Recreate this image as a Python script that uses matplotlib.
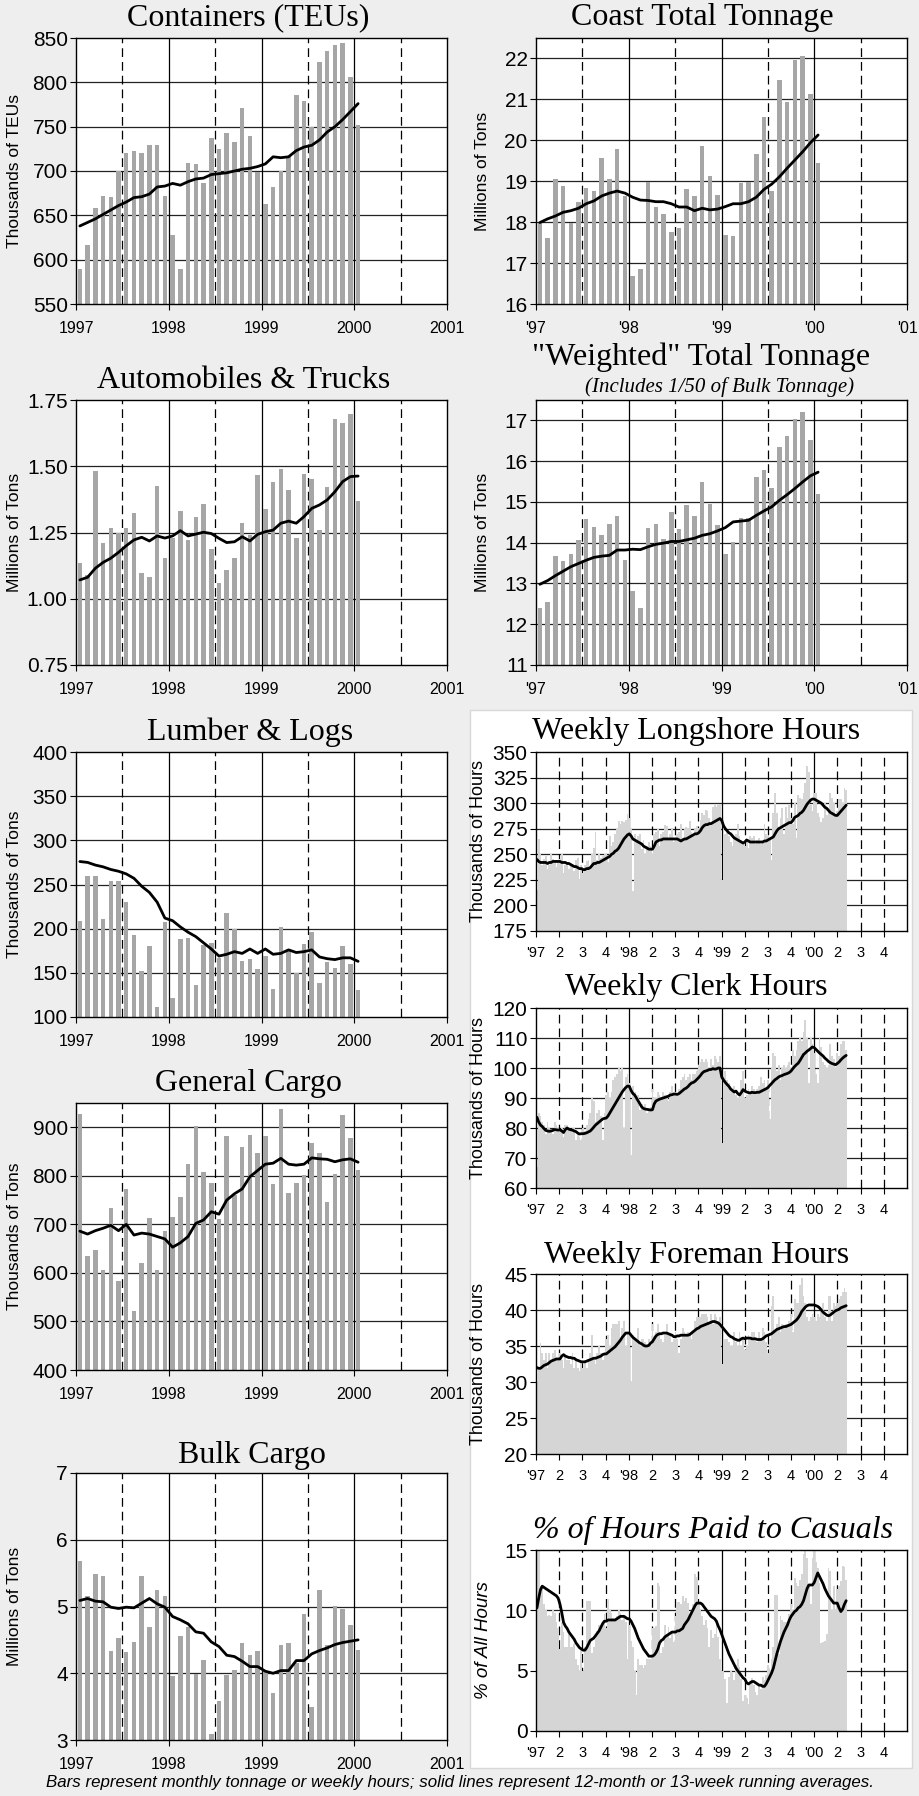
import numpy as np
import matplotlib
matplotlib.use("Agg")
import matplotlib.pyplot as plt
from matplotlib.patches import Rectangle

W, H = 920, 1796
BG = "#eeeeee"
BAR_GRAY = "#a6a6a6"
WEEK_GRAY = "#d5d5d5"
SERIF = "Liberation Serif"
SANS = "Liberation Sans"

# ---- monthly series, Jan 1997 .. Jan 2000 (37 months) ----
containers = [589, 616, 658, 672, 671, 700, 720, 722, 720, 729, 729, 672, 628,
              589, 709, 708, 686, 737, 725, 743, 733, 771, 740, 699, 663, 682,
              700, 716, 786, 779, 750, 823, 835, 842, 844, 806, 752]
containers_avg = [638, 642, 646, 651, 656, 661, 665, 670, 671, 674, 682, 683, 686,
                  684, 688, 691, 692, 696, 697, 698, 700, 702, 703, 705, 708, 716,
                  715, 716, 723, 727, 729, 735, 744, 750, 758, 767, 776]

coast = [17.99, 17.61, 19.05, 18.89, 17.99, 18.50, 18.83, 18.77, 19.56, 19.06,
         19.79, 18.64, 16.69, 16.85, 18.99, 18.37, 18.20, 17.77, 17.85, 18.80,
         18.63, 19.86, 19.14, 18.67, 17.69, 17.65, 18.95, 18.99, 19.67, 20.58,
         18.75, 21.47, 20.93, 21.96, 22.06, 21.13, 19.45]
coast_avg = [17.99, 18.08, 18.15, 18.24, 18.28, 18.34, 18.45, 18.52, 18.64, 18.71,
             18.76, 18.71, 18.61, 18.54, 18.53, 18.50, 18.50, 18.45, 18.37, 18.37,
             18.28, 18.34, 18.30, 18.32, 18.38, 18.45, 18.45, 18.50, 18.61, 18.80,
             18.93, 19.11, 19.32, 19.52, 19.72, 19.94, 20.13]

autos = [1.134, 1.09, 1.482, 1.212, 1.268, 1.249, 1.268, 1.322, 1.096, 1.081,
         1.427, 1.155, 1.228, 1.332, 1.222, 1.310, 1.358, 1.189, 1.058, 1.108,
         1.155, 1.285, 1.240, 1.467, 1.339, 1.439, 1.490, 1.410, 1.230, 1.471,
         1.452, 1.259, 1.422, 1.677, 1.664, 1.697, 1.369]
autos_avg = [1.071, 1.081, 1.115, 1.137, 1.153, 1.175, 1.200, 1.222, 1.232, 1.218,
             1.237, 1.229, 1.237, 1.257, 1.237, 1.244, 1.251, 1.246, 1.228, 1.212,
             1.215, 1.234, 1.218, 1.243, 1.253, 1.259, 1.285, 1.293, 1.285, 1.310,
             1.341, 1.354, 1.373, 1.404, 1.442, 1.461, 1.463]

weighted = [12.39, 12.55, 13.68, 13.55, 13.73, 14.06, 14.58, 14.39, 14.20, 14.45,
            14.65, 13.57, 12.81, 12.39, 14.37, 14.47, 14.08, 14.75, 14.33, 14.92,
            14.66, 15.49, 14.94, 14.43, 13.73, 14.02, 14.60, 14.60, 15.61, 15.79,
            15.33, 16.35, 16.61, 17.04, 17.20, 16.53, 15.19]
weighted_avg = [12.98, 13.07, 13.19, 13.30, 13.41, 13.49, 13.57, 13.64, 13.67, 13.69,
                13.82, 13.82, 13.84, 13.83, 13.90, 13.96, 13.99, 14.03, 14.03, 14.07,
                14.11, 14.18, 14.22, 14.29, 14.37, 14.51, 14.53, 14.55, 14.67, 14.78,
                14.88, 15.04, 15.18, 15.33, 15.49, 15.64, 15.73]

lumber = [209, 260, 260, 211, 254, 254, 230, 193, 152, 180, 111, 208, 121,
          188, 189, 136, 182, 184, 167, 218, 200, 163, 166, 154, 169, 132,
          202, 175, 150, 183, 196, 139, 162, 156, 180, 160, 131]
lumber_avg = [276, 275, 272, 270, 267, 265, 262, 257, 248, 241, 230, 212, 209,
              202, 196, 191, 184, 177, 169, 171, 174, 172, 177, 172, 177, 171,
              172, 176, 173, 174, 176, 168, 166, 165, 167, 167, 163]

general = [927, 635, 647, 605, 734, 584, 772, 522, 620, 713, 607, 687, 715,
           756, 825, 903, 807, 785, 711, 881, 760, 860, 884, 847, 881, 783,
           938, 765, 786, 802, 867, 848, 747, 803, 926, 877, 813]
general_avg = [686, 680, 687, 692, 698, 687, 700, 678, 682, 680, 675, 670, 653,
               662, 675, 702, 709, 726, 721, 750, 763, 773, 798, 811, 824, 826,
               836, 824, 822, 824, 837, 835, 834, 829, 833, 835, 828]

bulk = [5.68, 5.15, 5.48, 5.45, 4.34, 4.53, 4.32, 4.47, 5.46, 4.70, 5.25, 5.16,
        3.96, 4.56, 4.70, 3.99, 4.20, 3.09, 3.59, 3.98, 4.05, 4.45, 4.28, 4.34,
        4.04, 3.71, 4.42, 4.45, 4.15, 4.89, 3.49, 5.24, 4.43, 5.01, 4.97, 4.73,
        4.35]
bulk_avg = [5.09, 5.12, 5.08, 5.07, 4.99, 4.97, 4.99, 4.98, 5.05, 5.12, 5.04, 4.99,
            4.85, 4.80, 4.74, 4.62, 4.60, 4.47, 4.40, 4.27, 4.25, 4.18, 4.10, 4.10,
            4.03, 4.00, 4.04, 4.04, 4.19, 4.19, 4.29, 4.34, 4.38, 4.43, 4.46, 4.48,
            4.50]

# ---- weekly series, first week of 1997 .. May 2000 (175 weeks, 13 per row) ----
longshore = [
    215, 265, 250, 240, 245, 248, 236, 240, 250, 245, 242, 238, 244,
    245, 250, 232, 240, 242, 236, 240, 238, 234, 244, 246, 226, 240,
    232, 240, 243, 244, 236, 250, 256, 272, 244, 250, 246, 248, 250,
    250, 242, 268, 258, 262, 270, 276, 283, 280, 283, 282, 284, 289,
    285, 276, 214, 270, 262, 268, 270, 255, 264, 250, 258, 262, 258,
    250, 270, 272, 275, 258, 270, 272, 279, 278, 264, 270, 276, 262,
    264, 270, 272, 280, 266, 275, 277, 276, 283, 272, 268, 276, 278,
    276, 284, 290, 288, 293, 292, 285, 280, 296, 298, 296, 298, 299,
    225, 287, 270, 272, 268, 262, 258, 266, 270, 280, 268, 264, 260,
    258, 262, 256, 268, 266, 268, 260, 264, 266, 260, 262, 280, 270,
    268, 265, 244, 290, 310, 290, 275, 285, 295, 270, 296, 285, 298,
    285, 280, 300, 266, 308, 305, 304, 310, 320, 336, 330, 298, 292,
    310, 310, 290, 286, 282, 285, 300, 288, 295, 310, 305, 300, 288,
    292, 304, 304, 300, 315, 313]
longshore_avg = [
    245, 243, 242, 242, 242, 242, 241, 242, 242, 243, 243, 243, 243,
    243, 242, 242, 242, 241, 241, 240, 239, 238, 238, 237, 236, 236,
    235, 235, 236, 236, 237, 239, 241, 241, 242, 242, 243, 244, 245,
    246, 247, 248, 250, 251, 253, 254, 256, 259, 262, 265, 267, 269,
    270, 268, 265, 264, 263, 262, 261, 260, 258, 257, 256, 255, 255,
    255, 258, 262, 263, 264, 264, 265, 265, 265, 265, 265, 265, 265,
    265, 265, 264, 263, 264, 265, 265, 266, 267, 268, 269, 270, 270,
    271, 273, 276, 278, 279, 279, 280, 280, 281, 282, 283, 284, 285,
    283, 278, 275, 273, 271, 270, 268, 266, 265, 264, 263, 262, 261,
    262, 264, 263, 262, 262, 262, 262, 262, 262, 262, 262, 263, 263,
    264, 265, 266, 267, 270, 273, 275, 276, 277, 278, 279, 280, 281,
    281, 283, 286, 287, 288, 290, 291, 293, 296, 299, 301, 303, 304,
    304, 303, 302, 301, 300, 298, 296, 295, 293, 291, 290, 289, 288,
    288, 290, 292, 294, 296, 298]

clerk = [
    67, 85, 84, 82, 81, 78, 82, 80, 79, 78, 82, 81, 80,
    79, 80, 77, 81, 81, 80, 79, 80, 80, 76, 78, 77, 76,
    80, 79, 81, 83, 85, 90, 89, 82, 85, 86, 84, 76, 85,
    91, 92, 90, 92, 96, 97, 98, 100, 99, 100, 80, 97, 98,
    95, 71, 94, 92, 90, 91, 86, 88, 86, 88, 85, 86, 87,
    93, 90, 90, 92, 91, 90, 92, 91, 90, 89, 92, 94, 92,
    92, 91, 93, 96, 97, 98, 96, 97, 98, 96, 98, 98, 99,
    101, 102, 103, 102, 103, 102, 100, 103, 101, 104, 103, 102, 104,
    75, 98, 99, 96, 95, 93, 92, 94, 91, 90, 92, 96, 99,
    90, 91, 93, 92, 94, 93, 92, 93, 94, 97, 95, 96, 93,
    96, 83, 100, 105, 104, 99, 101, 96, 100, 101, 100, 101, 102,
    100, 106, 104, 106, 109, 110, 109, 112, 116, 110, 95, 110, 108,
    105, 98, 95, 110, 107, 102, 101, 100, 101, 108, 104, 103, 100,
    105, 104, 108, 109, 109, 106]
clerk_avg = [
    83.6, 82.0, 81.0, 80.5, 79.8, 79.2, 79.0, 78.9, 79.0, 79.2, 79.5, 79.4, 79.3,
    79.4, 79.0, 78.5, 79.5, 80.0, 79.6, 79.4, 79.3, 79.0, 78.8, 78.3, 78.0, 78.1,
    78.1, 78.2, 78.4, 78.7, 79.0, 79.6, 80.3, 81.0, 81.5, 82.0, 82.5, 83.0, 83.2,
    83.3, 84.0, 85.0, 86.0, 87.0, 88.0, 89.0, 90.0, 91.0, 92.0, 92.8, 93.5, 94.0,
    93.9, 92.5, 91.5, 91.0, 90.0, 89.0, 88.0, 87.0, 86.5, 86.3, 86.2, 86.1, 86.0,
    86.1, 88.0, 89.0, 89.3, 89.6, 89.8, 90.0, 90.2, 90.4, 90.6, 91.0, 91.1, 91.3,
    91.3, 91.2, 91.5, 92.0, 92.5, 93.0, 93.3, 93.8, 94.5, 95.0, 95.2, 95.6, 96.2,
    96.8, 97.5, 98.3, 98.8, 99.0, 99.2, 99.5, 99.5, 99.8, 99.6, 99.7, 100.0, 100.0,
    97.0, 96.0, 95.2, 94.5, 93.9, 93.0, 92.5, 92.0, 92.3, 91.5, 91.0, 91.8, 92.8,
    92.3, 92.0, 91.8, 91.7, 91.9, 91.8, 91.8, 91.9, 91.9, 92.2, 92.5, 92.8, 93.1,
    93.5, 94.2, 94.8, 95.5, 96.1, 96.5, 97.0, 97.3, 97.5, 97.8, 98.0, 98.2, 98.5,
    99.0, 99.8, 100.5, 101.1, 101.6, 102.5, 103.5, 104.5, 105.0, 105.6, 106.0, 106.5, 107.0,
    106.8, 106.2, 105.6, 105.0, 104.5, 104.0, 103.3, 102.8, 102.2, 101.8, 101.5, 101.3, 101.1,
    101.5, 102.0, 102.7, 103.3, 103.8, 104.2]

foreman = [
    30, 32, 35.4, 34, 33, 34, 32, 34, 33, 34, 34.5, 33, 33,
    34, 33, 32, 33.5, 33, 33, 32.5, 34, 32, 33, 32, 31.5, 33,
    32, 33, 32, 33, 34, 36.5, 33, 32.5, 34, 35, 34, 33, 34,
    36, 36.5, 35, 37.5, 38, 38, 38, 38.5, 36, 37.5, 38.5, 35, 37,
    37, 30, 36.5, 36, 35.5, 37.5, 35, 36, 36, 35.5, 35, 36, 35,
    38, 36, 37, 38, 37, 36, 35.5, 36.5, 38, 36.5, 36.5, 35.5, 36,
    37, 36, 34, 36, 37.5, 37, 36.5, 37, 36.5, 36, 37, 38.5, 39,
    39, 39, 39.5, 39.5, 39.5, 39, 38, 39.5, 38, 39.5, 39, 38.5, 39,
    32.5, 37.5, 36, 36, 35.5, 35, 35, 37, 35.5, 35, 37, 35, 36,
    34.5, 35, 36.5, 36, 37, 37, 36, 35.5, 37, 36, 37.5, 37, 35.5,
    34, 36, 40.5, 42, 37, 38, 39, 37, 38, 37.5, 38, 38, 38.5,
    39.5, 37, 41.5, 41, 41, 43.5, 44.5, 42, 41, 39, 38.5, 39, 39.5,
    39, 38.5, 39.5, 39, 40, 41, 39, 38.5, 42, 42, 38.5, 41, 40.5,
    41, 41.5, 42, 42.5, 43, 42.5]
foreman_avg = [
    32.0, 31.9, 31.9, 32.1, 32.3, 32.4, 32.5, 32.7, 32.9, 33.0, 33.1, 33.2, 33.2,
    33.2, 33.6, 33.8, 33.6, 33.5, 33.4, 33.4, 33.3, 33.3, 33.1, 33.0, 32.9, 32.8,
    32.8, 32.8, 32.9, 33.0, 33.1, 33.2, 33.3, 33.3, 33.4, 33.5, 33.6, 33.8, 33.9,
    33.9, 34.1, 34.3, 34.5, 34.7, 34.9, 35.2, 35.5, 35.8, 36.2, 36.5, 36.8, 36.8,
    36.8, 36.5, 36.2, 36.0, 35.8, 35.6, 35.4, 35.3, 35.1, 35.0, 35.0, 35.1, 35.4,
    35.6, 36.0, 36.4, 36.6, 36.7, 36.7, 36.8, 36.8, 36.8, 36.7, 36.6, 36.5, 36.3,
    36.3, 36.4, 36.4, 36.5, 36.5, 36.5, 36.5, 36.5, 36.6, 36.8, 37.0, 37.2, 37.4,
    37.5, 37.7, 37.8, 37.9, 38.0, 38.1, 38.2, 38.3, 38.4, 38.4, 38.3, 38.2, 38.0,
    37.7, 37.4, 37.1, 36.8, 36.5, 36.3, 36.2, 36.0, 35.9, 35.8, 35.8, 36.0, 36.1,
    36.0, 36.1, 36.1, 36.1, 36.0, 36.0, 36.0, 35.9, 35.9, 35.9, 36.0, 36.2, 36.4,
    36.5, 36.6, 36.7, 36.9, 37.1, 37.3, 37.4, 37.5, 37.6, 37.7, 37.7, 37.8, 37.9,
    38.0, 38.2, 38.4, 38.6, 38.9, 39.3, 39.8, 40.1, 40.4, 40.6, 40.7, 40.7, 40.7,
    40.7, 40.6, 40.5, 40.3, 40.0, 39.7, 39.5, 39.3, 39.2, 39.3, 39.5, 39.7, 39.9,
    40.0, 40.1, 40.3, 40.4, 40.5, 40.6]

casual = [
    16, 15, 12, 12, 10.5, 10, 9.5, 9.6, 9.5, 10, 9.8, 9, 8.5,
    6.8, 9, 8.2, 7, 7, 8, 7, 7, 7.2, 6, 5.5, 5, 6.8,
    5, 7, 10.8, 10.8, 10.8, 6.5, 7, 7.6, 8.3, 8.8, 8.6, 9, 9.7,
    8.5, 10.9, 10, 9.8, 9.4, 9.3, 9.5, 10, 9.8, 9.2, 9.5, 9, 6,
    8.8, 7.5, 7, 5, 3, 6, 5.5, 5.5, 5.2, 5.5, 6, 6, 6,
    8.5, 8.5, 8.7, 12.3, 12, 6.5, 7, 8.8, 8, 8.6, 7.7, 8.3, 7.4,
    9.5, 10.7, 10.7, 10.5, 11.2, 10.8, 11, 10.6, 9.5, 10, 10.5, 13, 12.8,
    10.5, 10, 9.5, 8.8, 9.2, 8.5, 7, 8.4, 7.7, 8, 9, 7.8, 6,
    5, 7, 4.3, 2.3, 4.5, 5, 4.8, 4.2, 5.5, 6, 5.3, 4.3, 2.5,
    3, 2.7, 2.2, 4, 4.4, 3.8, 3.2, 3, 3.7, 3.5, 4.5, 4.2, 4.6,
    5.5, 5, 6, 7, 11.3, 11.3, 6.4, 9.5, 9.2, 9, 9, 8.8, 9.7,
    10.5, 10, 12.7, 12.3, 12, 12.5, 13, 14.7, 15, 14.3, 12, 10.5, 14.3,
    15, 14, 13.5, 12.3, 7.3, 7.4, 7.5, 8, 13.5, 13.3, 10, 12, 10,
    11.8, 12, 12.4, 13.7, 13.6, 12.5]
casual_avg = [
    10.2, 11.0, 11.7, 12.0, 11.9, 11.8, 11.7, 11.6, 11.5, 11.4, 11.3, 11.2, 11.0,
    10.5, 9.8, 9.0, 8.7, 8.5, 8.2, 8.0, 7.8, 7.6, 7.3, 7.1, 6.9, 6.8,
    6.7, 6.7, 6.9, 7.2, 7.5, 7.6, 7.7, 7.9, 8.1, 8.3, 8.6, 8.9, 9.1,
    9.1, 9.2, 9.2, 9.2, 9.2, 9.2, 9.3, 9.4, 9.5, 9.5, 9.5, 9.4, 9.3,
    9.3, 9.1, 8.8, 8.5, 8.1, 7.7, 7.4, 7.1, 6.8, 6.6, 6.4, 6.2, 6.2,
    6.2, 6.3, 6.5, 6.8, 7.3, 7.5, 7.6, 7.8, 7.9, 8.0, 8.1, 8.2, 8.2,
    8.2, 8.3, 8.3, 8.4, 8.5, 8.8, 9.0, 9.2, 9.5, 9.8, 10.1, 10.4, 10.6,
    10.6, 10.6, 10.5, 10.3, 10.1, 9.9, 9.7, 9.5, 9.4, 9.3, 9.1, 8.7, 8.4,
    8.0, 7.6, 7.2, 6.8, 6.4, 6.1, 5.8, 5.5, 5.2, 5.0, 4.8, 4.6, 4.4,
    4.3, 4.0, 3.9, 4.0, 4.1, 4.1, 4.0, 3.9, 3.8, 3.8, 3.7, 3.7, 3.9,
    4.2, 4.5, 4.8, 5.2, 5.8, 6.4, 6.9, 7.4, 7.8, 8.2, 8.5, 8.8, 9.2,
    9.5, 9.7, 9.9, 10.0, 10.2, 10.3, 10.5, 10.8, 11.3, 11.8, 12.1, 12.1, 12.1,
    12.3, 12.7, 13.1, 12.8, 12.5, 12.2, 11.8, 11.5, 11.2, 11.0, 10.8, 10.6, 10.6,
    10.6, 10.2, 9.9, 10.1, 10.5, 10.8]

year_labels = ["1997", "1998", "1999", "2000", "2001"]
short_year_labels = ["'97", "'98", "'99", "'00", "'01"]
quarter_labels = ["'97", "2", "3", "4", "'98", "2", "3", "4",
                  "'99", "2", "3", "4", "'00", "2", "3", "4"]


def rect(l, t, r, b):
    return [l / W, 1 - b / H, (r - l) / W, (b - t) / H]


def fig_text(fig, x, y, s, **kw):
    fig.text(x / W, 1 - y / H, s, ha="center", va="center", **kw)


def base_axes(fig, box, ylim, yticks, yfmt, ylabel, ylabel_x, label_kw):
    ax = fig.add_axes(rect(*box))
    ax.set_xlim(1997, 2001)
    ax.set_ylim(*ylim)
    ax.set_yticks(yticks)
    ax.set_yticklabels([yfmt.format(v) for v in yticks], fontsize=15, family=SANS)
    for s in ax.spines.values():
        s.set_color("black")
        s.set_linewidth(1.0)
    for v in yticks:
        if ylim[0] < v < ylim[1]:
            ax.axhline(v, color="#222222", lw=0.9, zorder=1)
    ax.tick_params(axis="y", length=4, width=0.8, pad=2)
    ax.tick_params(axis="x", length=4, width=0.8)
    ax.set_ylabel(ylabel, family=SANS, **label_kw)
    left, right = box[0], box[2]
    ax.yaxis.set_label_coords((ylabel_x - left) / (right - left), 0.5)
    return ax


def monthly_panel(fig, box, bars, avg, ylim, yticks, yfmt, ylabel, xlabels, ylabel_x):
    ax = base_axes(fig, box, ylim, yticks, yfmt, ylabel, ylabel_x, dict(fontsize=12.5))
    for yr in [1998, 1999, 2000]:
        ax.axvline(yr, color="black", lw=0.9, zorder=1)
    for yr in [1997.5, 1998.5, 1999.5, 2000.5]:
        ax.axvline(yr, color="black", lw=0.9, ls=(0, (7, 4)), zorder=1)
    x = 1997 + (np.arange(len(bars)) + 0.5) / 12
    ax.bar(x, np.array(bars) - ylim[0], bottom=ylim[0], width=0.58 / 12,
           color=BAR_GRAY, zorder=2)
    ax.plot(x, avg, color="black", lw=2.0, zorder=3, solid_capstyle="round")
    ax.set_xticks([1997, 1998, 1999, 2000, 2001])
    ax.set_xticklabels(xlabels, fontsize=11.5, family=SANS)
    ax.tick_params(axis="x", pad=8)
    return ax


def weekly_panel(fig, box, bars, avg, ylim, yticks, ylabel, ylabel_x, label_kw):
    ax = base_axes(fig, box, ylim, yticks, "{:d}", ylabel, ylabel_x, label_kw)
    q = np.arange(1997, 2001, 0.25)
    for v in q[1:]:
        if v == int(v):
            ax.axvline(v, color="black", lw=0.9, zorder=1)
        else:
            ax.axvline(v, color="black", lw=0.9, ls=(0, (7, 4)), zorder=1)
    x = 1997 + (np.arange(len(bars)) + 0.5) * 7 / 365.25
    ax.bar(x, np.array(bars) - ylim[0], bottom=ylim[0], width=7 / 365.25,
           color=WEEK_GRAY, lw=0, zorder=2)
    ax.plot(x, avg, color="black", lw=2.0, zorder=3, solid_capstyle="round")
    ax.set_xticks(q)
    ax.set_xticklabels(quarter_labels, fontsize=10.5, family=SANS)
    ax.tick_params(axis="x", pad=7)
    return ax


fig = plt.figure(figsize=(W / 100, H / 100), dpi=100, facecolor=BG)

# white box behind the weekly panels
fig.patches.append(Rectangle((470 / W, 1 - 1768 / H), 442 / W, 1058 / H,
                             transform=fig.transFigure, facecolor="white",
                             edgecolor="#d8d8d8", lw=1.0, zorder=-1))

tkw = dict(family=SERIF, fontsize=23)
hours_kw = dict(fontsize=13)

monthly_panel(fig, (76, 38, 447, 304), containers, containers_avg, (550, 850),
              list(range(550, 851, 50)), "{:d}", "Thousands of TEUs", year_labels, 22)
fig_text(fig, 248, 18, "Containers (TEUs)", **tkw)

monthly_panel(fig, (536, 38, 907, 304), coast, coast_avg, (16, 22.5),
              list(range(16, 23)), "{:d}", "Millions of Tons", short_year_labels, 490)
fig_text(fig, 702, 18, "Coast Total Tonnage", **tkw)

monthly_panel(fig, (76, 400, 447, 665), autos, autos_avg, (0.75, 1.75),
              [0.75, 1.0, 1.25, 1.5, 1.75], "{:.2f}", "Millions of Tons", year_labels, 22)
fig_text(fig, 244, 380, "Automobiles & Trucks", **tkw)

monthly_panel(fig, (536, 400, 907, 665), weighted, weighted_avg, (11, 17.5),
              list(range(11, 18)), "{:d}", "Millions of Tons", short_year_labels, 490)
fig_text(fig, 701, 357, '"Weighted" Total Tonnage', **tkw)
fig_text(fig, 720, 387, "(Includes 1/50 of Bulk Tonnage)", family=SERIF,
         fontsize=15, style="italic")

monthly_panel(fig, (76, 752, 447, 1017), lumber, lumber_avg, (100, 400),
              list(range(100, 401, 50)), "{:d}", "Thousands of Tons", year_labels, 22)
fig_text(fig, 250, 732, "Lumber & Logs", **tkw)

monthly_panel(fig, (76, 1103, 447, 1370), general, general_avg, (400, 950),
              list(range(400, 901, 100)), "{:d}", "Thousands of Tons", year_labels, 22)
fig_text(fig, 248, 1083, "General Cargo", **tkw)

monthly_panel(fig, (76, 1473, 447, 1740), bulk, bulk_avg, (3, 7),
              list(range(3, 8)), "{:d}", "Millions of Tons", year_labels, 22)
fig_text(fig, 252, 1455, "Bulk Cargo", **tkw)

weekly_panel(fig, (536, 752, 907, 931), longshore, longshore_avg, (175, 350),
             list(range(175, 351, 25)), "Thousands of Hours", 487, hours_kw)
fig_text(fig, 696, 732, "Weekly Longshore Hours", **tkw)

weekly_panel(fig, (536, 1008, 907, 1188), clerk, clerk_avg, (60, 120),
             list(range(60, 121, 10)), "Thousands of Hours", 487, hours_kw)
fig_text(fig, 696, 987, "Weekly Clerk Hours", **tkw)

weekly_panel(fig, (536, 1274, 907, 1454), foreman, foreman_avg, (20, 45),
             list(range(20, 46, 5)), "Thousands of Hours", 487, hours_kw)
fig_text(fig, 697, 1255, "Weekly Foreman Hours", **tkw)

weekly_panel(fig, (536, 1550, 907, 1731), casual, casual_avg, (0, 15),
             [0, 5, 10, 15], "% of All Hours", 492,
             dict(fontsize=13.5, style="italic"))
fig_text(fig, 713, 1530, "% of Hours Paid to Casuals", family=SERIF, fontsize=23,
         style="italic")

fig_text(fig, 460, 1782, "Bars represent monthly tonnage or weekly hours; solid lines "
         "represent 12-month or 13-week running averages.", family=SANS,
         fontsize=12.2, style="italic")

fig.savefig("out.png", dpi=100, facecolor=BG)
